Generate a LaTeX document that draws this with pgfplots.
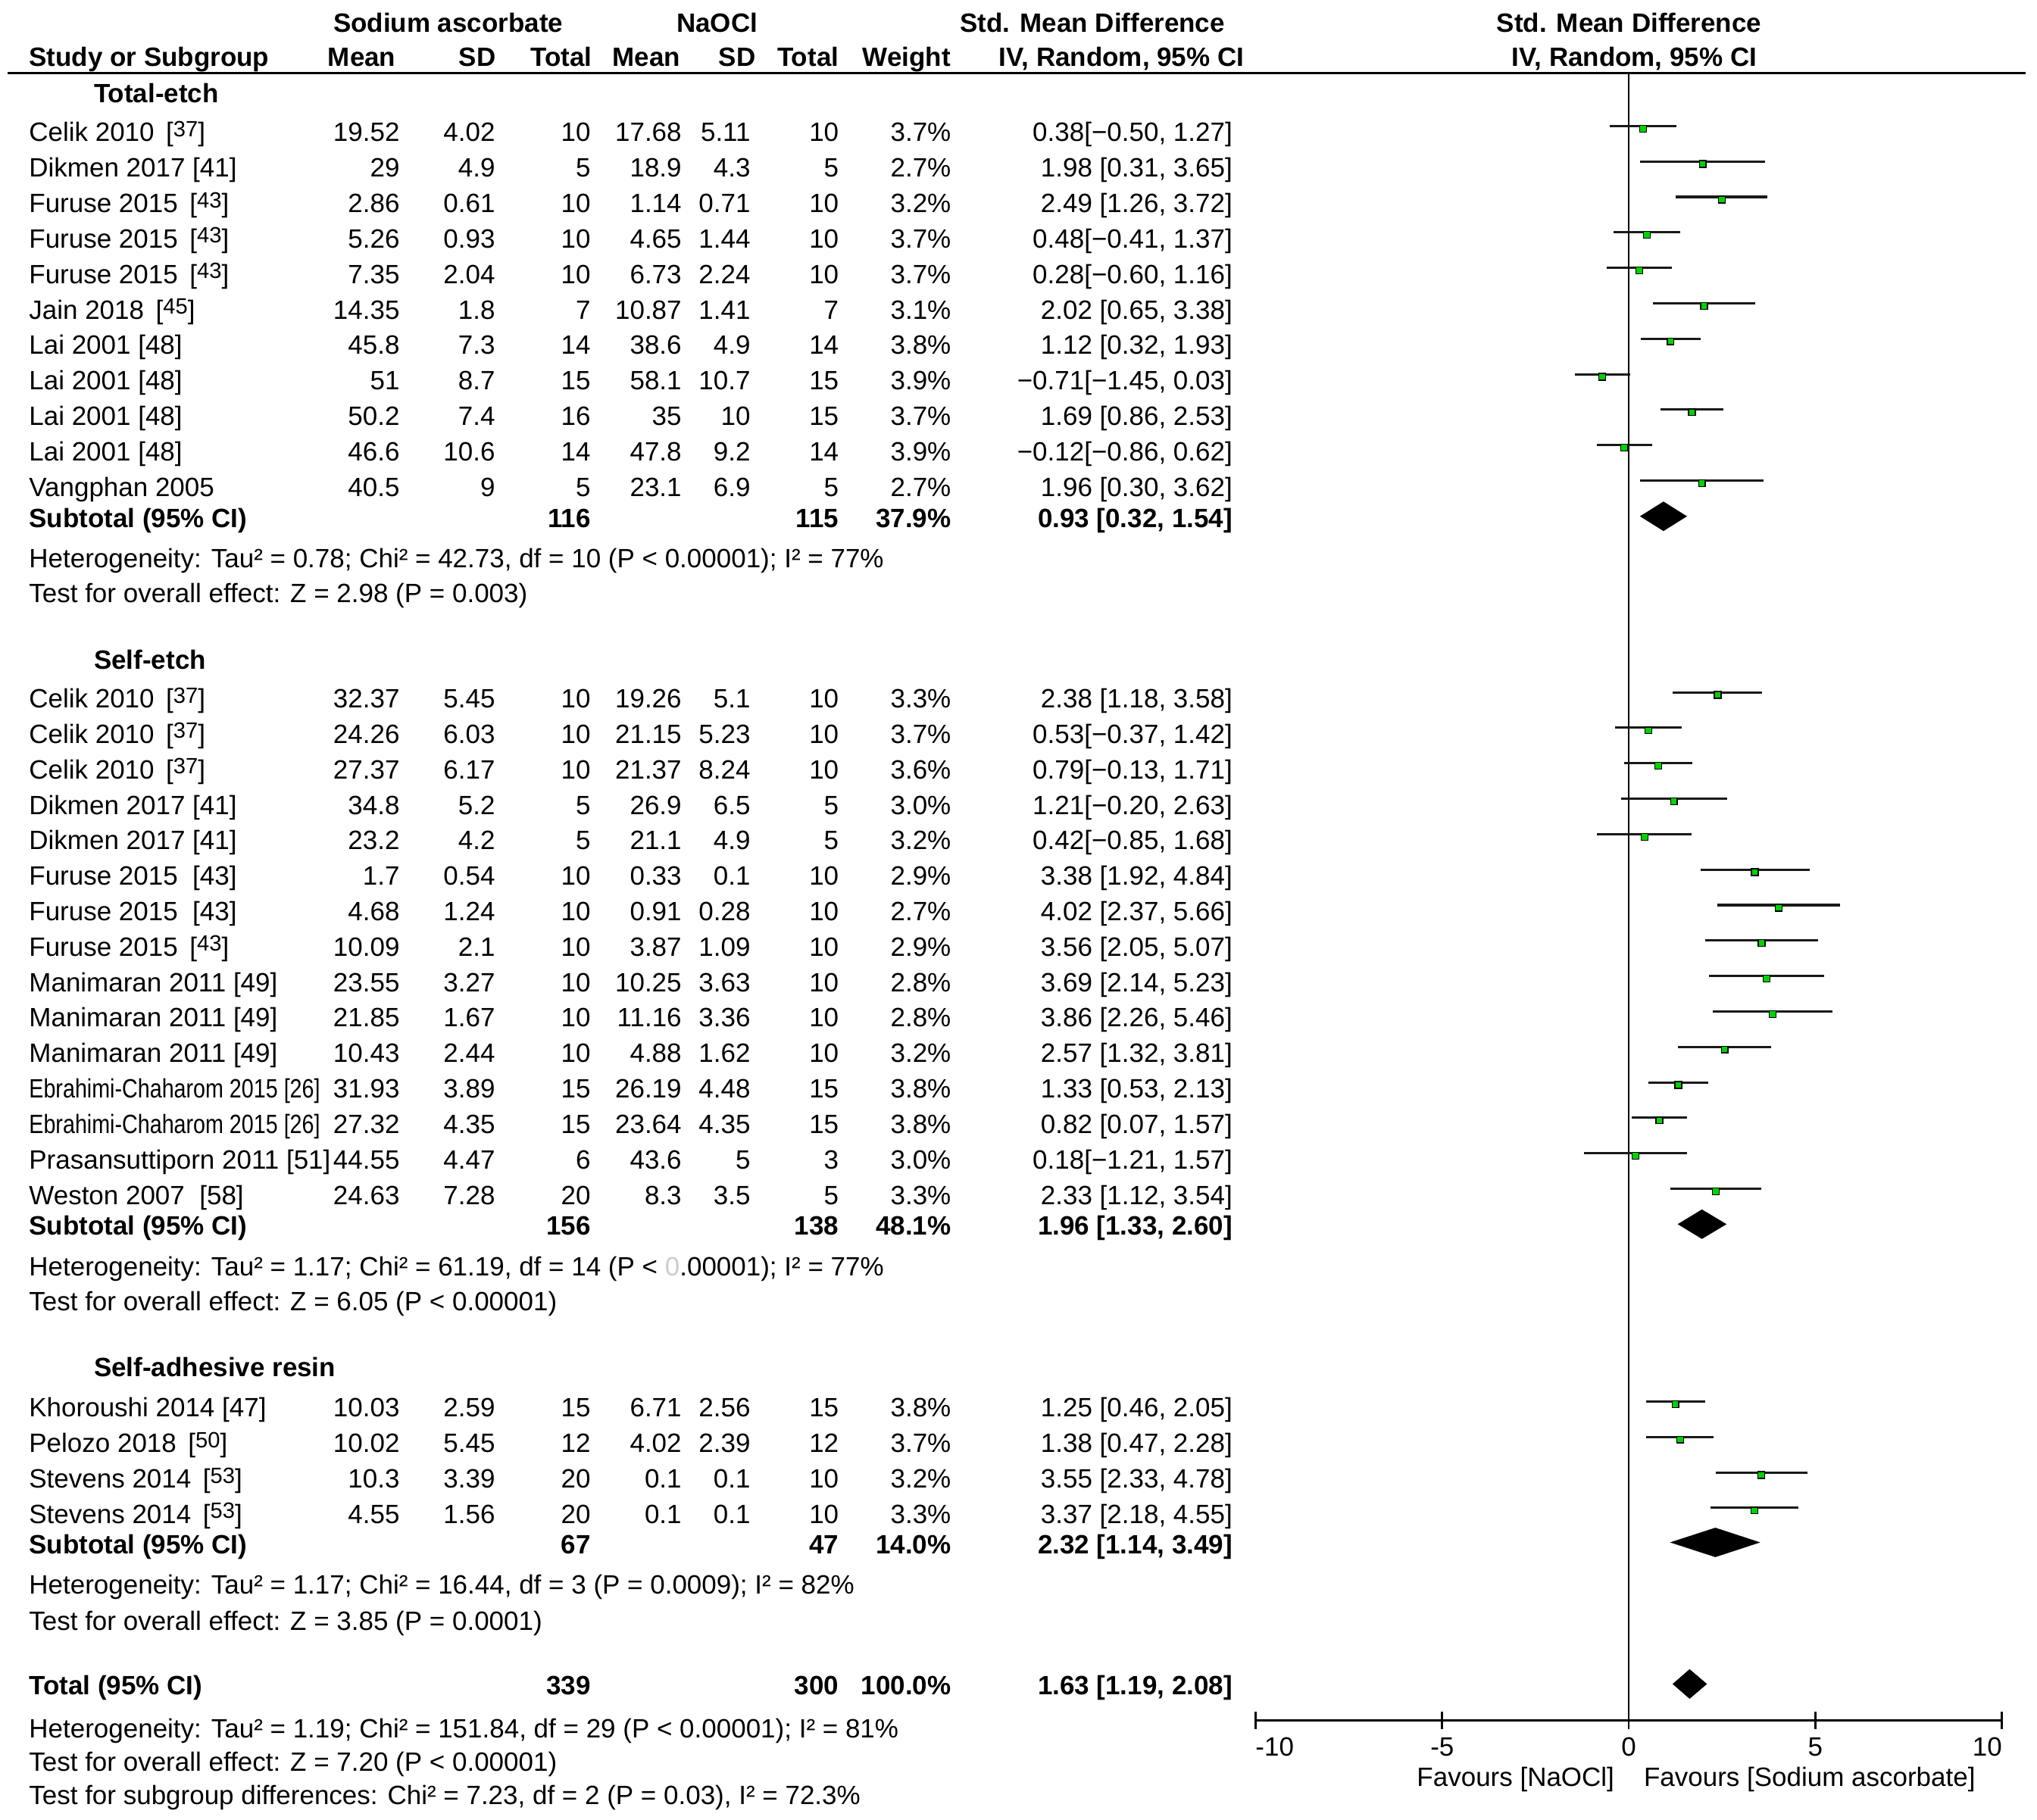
\documentclass[border=0pt]{standalone}
\usepackage{pgfplots}
\pgfplotsset{compat=1.18}
\usepackage{pgfplotstable}
\usepackage{fontspec}
\setmainfont{Liberation Sans}
\definecolor{mk}{RGB}{0,210,0}

% one row per study: y = row position (negative pixel row), m = SMD, lo/hi = 95% CI
\pgfplotstableread{
y m lo hi
-97 0.38 -0.50 1.27
-124.3 1.98 0.31 3.65
-151.6 2.49 1.26 3.72
-178.9 0.48 -0.41 1.37
-206.2 0.28 -0.60 1.16
-233.5 2.02 0.65 3.38
-260.8 1.12 0.32 1.93
-288.1 -0.71 -1.45 0.03
-315.4 1.69 0.86 2.53
-342.7 -0.12 -0.86 0.62
-370 1.96 0.30 3.62
-533 2.38 1.18 3.58
-560.3 0.53 -0.37 1.42
-587.6 0.79 -0.13 1.71
-614.9 1.21 -0.20 2.63
-642.2 0.42 -0.85 1.68
-669.5 3.38 1.92 4.84
-696.8 4.02 2.37 5.66
-724.1 3.56 2.05 5.07
-751.4 3.69 2.14 5.23
-778.7 3.86 2.26 5.46
-806 2.57 1.32 3.81
-833.3 1.33 0.53 2.13
-860.6 0.82 0.07 1.57
-887.9 0.18 -1.21 1.57
-915.2 2.33 1.12 3.54
-1079 1.25 0.46 2.05
-1106.3 1.38 0.47 2.28
-1133.6 3.55 2.33 4.78
-1160.9 3.37 2.18 4.55
}\studies

\newcommand\TL[3]{\node[anchor=base west] at (#1,#2) {#3};}
\newcommand\TR[3]{\node[anchor=base east] at (#1,#2) {#3};}
\newcommand\TC[3]{\node[anchor=base] at (#1,#2) {#3};}
\newcommand\row[9]{\TL{22}{#1+7}{#2}\TR{308}{#1+7}{#3}\TR{381.5}{#1+7}{#4}\TR{455}{#1+7}{#5}%
  \TR{525}{#1+7}{#6}\TR{578}{#1+7}{#7}\TR{646}{#1+7}{#8}\TR{732.4}{#1+7}{#9}}
\newcommand\ci[2]{\TR{949}{#1+7}{#2}}
\newcommand\sub[5]{\TL{22}{#1+7}{\bfseries #2}\TR{455}{#1+7}{\bfseries #3}\TR{646}{#1+7}{\bfseries #4}\TR{732.4}{#1+7}{\bfseries #5}}
\newcommand\rr[1]{\,[\raisebox{0.35ex}{\fontsize{8.5}{10}\selectfont #1}]}

\begin{document}
\begin{tikzpicture}[every node/.style={inner sep=0pt, font=\fontsize{10.2}{12}\selectfont}]
\useasboundingbox (0,0) rectangle (784pt,-700.5pt);
\begin{axis}[
  at={(483.25pt,-662.25pt)}, anchor=south west,
  x=14.3625pt, y=0.5pt,
  xmin=-10, xmax=10, ymin=-1324.5, ymax=-57,
  axis x line*=bottom, hide y axis,
  x axis line style={-, line width=0.8pt},
  xtick={-10,-5,0,5,10},
  xticklabels={\rlap{-10},-5,0,5,\llap{10}},
  xticklabel style={anchor=base, yshift=-10.5pt},
  tick align=center, major tick length=6.5pt,
  tick style={black, line width=0.8pt},
  clip=false,
]
\addplot[black, line width=0.6pt] coordinates {(0,-57) (0,-1324.5)};
\addplot[draw=none, no marks,
  error bars/.cd, x dir=both, x explicit, error mark=none,
  error bar style={line width=0.9pt, draw=black!90}]
  table[x=m, y=y, x error plus expr=\thisrow{hi}-\thisrow{m}, x error minus expr=\thisrow{m}-\thisrow{lo}] {\studies};
\addplot[draw=none, mark=square*, mark size=1.3pt, mark options={draw=none, fill=mk, yshift=-1pt}]
  table[x=m, y=y] {\studies};
% subtotal and total diamonds
\addplot[fill=black, draw=black, line width=0.3pt] coordinates {(0.32,-397.5) (0.93,-386.5) (1.54,-397.5) (0.93,-408.5)} -- cycle;
\addplot[fill=black, draw=black, line width=0.3pt] coordinates {(1.33,-942.5) (1.96,-931.5) (2.60,-942.5) (1.96,-953.5)} -- cycle;
\addplot[fill=black, draw=black, line width=0.3pt] coordinates {(1.14,-1187.5) (2.32,-1176.5) (3.49,-1187.5) (2.32,-1198.5)} -- cycle;
\addplot[fill=black, draw=black, line width=0.3pt] coordinates {(1.19,-1296.5) (1.63,-1285.5) (2.08,-1296.5) (1.63,-1307.5)} -- cycle;
\end{axis}

\begin{scope}[x=0.5pt, y=-0.5pt]
% header
\TC{345}{24.5}{\bfseries Sodium ascorbate}
\TC{552}{24.5}{\bfseries NaOCl}
\TC{841}{24.5}{\bfseries Std. Mean Difference}
\TC{1254}{24.5}{\bfseries Std. Mean Difference}
\TL{22}{51}{\bfseries Study or Subgroup}
\TR{305}{51}{\bfseries Mean}
\TR{382}{51}{\bfseries SD}
\TR{456}{51}{\bfseries Total}
\TR{524}{51}{\bfseries Mean}
\TR{582}{51}{\bfseries SD}
\TR{646}{51}{\bfseries Total}
\TR{732}{51}{\bfseries Weight}
\TR{958}{51}{\bfseries IV, Random, 95\% CI}
\TC{1258}{51}{\bfseries IV, Random, 95\% CI}
\draw[line width=0.9pt] (6,56.5) -- (1559,56.5);

% Total-etch
\TL{72}{79}{\bfseries Total-etch}
\row{102}{Celik 2010 \rr{37}}{19.52}{4.02}{10}{17.68}{5.11}{10}{3.7\%}\ci{102}{0.38[−0.50, 1.27]}
\row{129.3}{Dikmen 2017 [41]}{29}{4.9}{5}{18.9}{4.3}{5}{2.7\%}\ci{129.3}{1.98 [0.31, 3.65]}
\row{156.6}{Furuse 2015 \rr{43}}{2.86}{0.61}{10}{1.14}{0.71}{10}{3.2\%}\ci{156.6}{2.49 [1.26, 3.72]}
\row{183.9}{Furuse 2015 \rr{43}}{5.26}{0.93}{10}{4.65}{1.44}{10}{3.7\%}\ci{183.9}{0.48[−0.41, 1.37]}
\row{211.2}{Furuse 2015 \rr{43}}{7.35}{2.04}{10}{6.73}{2.24}{10}{3.7\%}\ci{211.2}{0.28[−0.60, 1.16]}
\row{238.5}{Jain 2018 \rr{45}}{14.35}{1.8}{7}{10.87}{1.41}{7}{3.1\%}\ci{238.5}{2.02 [0.65, 3.38]}
\row{265.8}{Lai 2001 [48]}{45.8}{7.3}{14}{38.6}{4.9}{14}{3.8\%}\ci{265.8}{1.12 [0.32, 1.93]}
\row{293.1}{Lai 2001 [48]}{51}{8.7}{15}{58.1}{10.7}{15}{3.9\%}\ci{293.1}{−0.71[−1.45, 0.03]}
\row{320.4}{Lai 2001 [48]}{50.2}{7.4}{16}{35}{10}{15}{3.7\%}\ci{320.4}{1.69 [0.86, 2.53]}
\row{347.7}{Lai 2001 [48]}{46.6}{10.6}{14}{47.8}{9.2}{14}{3.9\%}\ci{347.7}{−0.12[−0.86, 0.62]}
\row{375}{Vangphan 2005}{40.5}{9}{5}{23.1}{6.9}{5}{2.7\%}\ci{375}{1.96 [0.30, 3.62]}
\sub{399}{Subtotal (95\% CI)}{116}{115}{37.9\%}\ci{399}{\bfseries 0.93 [0.32, 1.54]}
\TL{22}{437}{Heterogeneity: Tau² = 0.78; Chi² = 42.73, df = 10 (P < 0.00001); I² = 77\%}
\TL{22}{464}{Test for overall effect: Z = 2.98 (P = 0.003)}

% Self-etch
\TL{72}{515}{\bfseries Self-etch}
\row{538}{Celik 2010 \rr{37}}{32.37}{5.45}{10}{19.26}{5.1}{10}{3.3\%}\ci{538}{2.38 [1.18, 3.58]}
\row{565.3}{Celik 2010 \rr{37}}{24.26}{6.03}{10}{21.15}{5.23}{10}{3.7\%}\ci{565.3}{0.53[−0.37, 1.42]}
\row{592.6}{Celik 2010 \rr{37}}{27.37}{6.17}{10}{21.37}{8.24}{10}{3.6\%}\ci{592.6}{0.79[−0.13, 1.71]}
\row{619.9}{Dikmen 2017 [41]}{34.8}{5.2}{5}{26.9}{6.5}{5}{3.0\%}\ci{619.9}{1.21[−0.20, 2.63]}
\row{647.2}{Dikmen 2017 [41]}{23.2}{4.2}{5}{21.1}{4.9}{5}{3.2\%}\ci{647.2}{0.42[−0.85, 1.68]}
\row{674.5}{Furuse 2015 \ [43]}{1.7}{0.54}{10}{0.33}{0.1}{10}{2.9\%}\ci{674.5}{3.38 [1.92, 4.84]}
\row{701.8}{Furuse 2015 \ [43]}{4.68}{1.24}{10}{0.91}{0.28}{10}{2.7\%}\ci{701.8}{4.02 [2.37, 5.66]}
\row{729.1}{Furuse 2015 \rr{43}}{10.09}{2.1}{10}{3.87}{1.09}{10}{2.9\%}\ci{729.1}{3.56 [2.05, 5.07]}
\row{756.4}{Manimaran 2011 [49]}{23.55}{3.27}{10}{10.25}{3.63}{10}{2.8\%}\ci{756.4}{3.69 [2.14, 5.23]}
\row{783.7}{Manimaran 2011 [49]}{21.85}{1.67}{10}{11.16}{3.36}{10}{2.8\%}\ci{783.7}{3.86 [2.26, 5.46]}
\row{811}{Manimaran 2011 [49]}{10.43}{2.44}{10}{4.88}{1.62}{10}{3.2\%}\ci{811}{2.57 [1.32, 3.81]}
\row{838.3}{\scalebox{0.82}[1]{Ebrahimi-Chaharom 2015 [26]}}{31.93}{3.89}{15}{26.19}{4.48}{15}{3.8\%}\ci{838.3}{1.33 [0.53, 2.13]}
\row{865.6}{\scalebox{0.82}[1]{Ebrahimi-Chaharom 2015 [26]}}{27.32}{4.35}{15}{23.64}{4.35}{15}{3.8\%}\ci{865.6}{0.82 [0.07, 1.57]}
\row{892.9}{Prasansuttiporn 2011 [51]}{44.55}{4.47}{6}{43.6}{5}{3}{3.0\%}\ci{892.9}{0.18[−1.21, 1.57]}
\row{920.2}{Weston 2007 \ [58]}{24.63}{7.28}{20}{8.3}{3.5}{5}{3.3\%}\ci{920.2}{2.33 [1.12, 3.54]}
\sub{944}{Subtotal (95\% CI)}{156}{138}{48.1\%}\ci{944}{\bfseries 1.96 [1.33, 2.60]}
\TL{22}{982}{Heterogeneity: Tau² = 1.17; Chi² = 61.19, df = 14 (P < \textcolor{black!20}{0}.00001); I² = 77\%}
\TL{22}{1009}{Test for overall effect: Z = 6.05 (P < 0.00001)}

% Self-adhesive resin
\TL{72}{1060}{\bfseries Self-adhesive resin}
\row{1084}{Khoroushi 2014 [47]}{10.03}{2.59}{15}{6.71}{2.56}{15}{3.8\%}\ci{1084}{1.25 [0.46, 2.05]}
\row{1111.3}{Pelozo 2018 \rr{50}}{10.02}{5.45}{12}{4.02}{2.39}{12}{3.7\%}\ci{1111.3}{1.38 [0.47, 2.28]}
\row{1138.6}{Stevens 2014 \rr{53}}{10.3}{3.39}{20}{0.1}{0.1}{10}{3.2\%}\ci{1138.6}{3.55 [2.33, 4.78]}
\row{1165.9}{Stevens 2014 \rr{53}}{4.55}{1.56}{20}{0.1}{0.1}{10}{3.3\%}\ci{1165.9}{3.37 [2.18, 4.55]}
\sub{1189}{Subtotal (95\% CI)}{67}{47}{14.0\%}\ci{1189}{\bfseries 2.32 [1.14, 3.49]}
\TL{22}{1227}{Heterogeneity: Tau² = 1.17; Chi² = 16.44, df = 3 (P = 0.0009); I² = 82\%}
\TL{22}{1255}{Test for overall effect: Z = 3.85 (P = 0.0001)}

% overall
\sub{1298}{Total (95\% CI)}{339}{300}{100.0\%}\ci{1298}{\bfseries 1.63 [1.19, 2.08]}
\TL{22}{1338}{Heterogeneity: Tau² = 1.19; Chi² = 151.84, df = 29 (P < 0.00001); I² = 81\%}
\TL{22}{1363.5}{Test for overall effect: Z = 7.20 (P < 0.00001)}
\TL{22}{1389}{Test for subgroup differences: Chi² = 7.23, df = 2 (P = 0.03), I² = 72.3\%}

\TR{1243}{1375}{Favours [NaOCl]}
\TL{1265}{1375}{Favours [Sodium ascorbate]}
\end{scope}
\end{tikzpicture}
\end{document}
